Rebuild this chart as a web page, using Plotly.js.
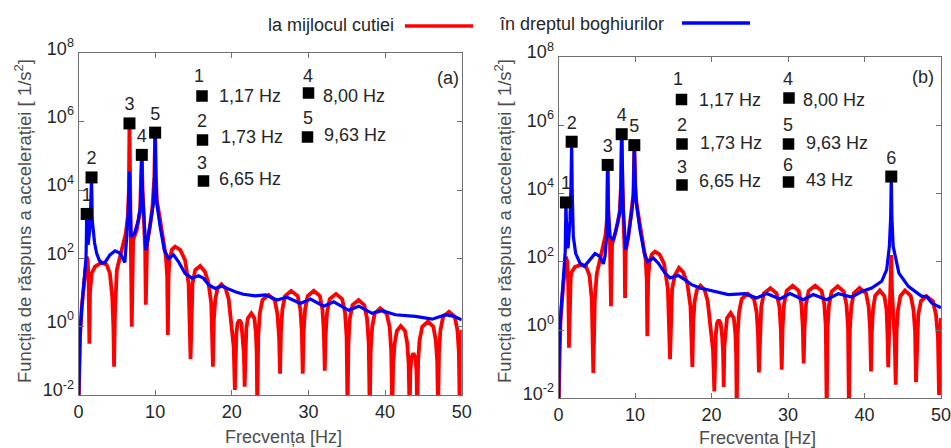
<!DOCTYPE html>
<html><head><meta charset="utf-8">
<script src="https://cdn.plot.ly/plotly-3.0.1.min.js"></script>
<style>html,body{margin:0;padding:0;background:#fff;}#chart{width:951px;height:448px;}</style>
</head><body><div id="chart"></div>
<script>
// ---------- DATA ----------
// Panel (a)
const freqA_red = [
 0, 0.05, 0.2, 0.42, 0.8, 0.98, 1.07, 1.2, 1.32, 1.42,
 1.5, 1.72, 2.16, 3.03, 3.68, 4.1, 4.4, 4.55, 4.64, 4.75,
 5.0, 5.42, 5.86, 6.17, 6.43, 6.57, 6.65, 6.72, 6.8, 6.95,
 7.13, 7.6, 8.04, 8.18, 8.26, 8.36, 8.48, 8.7, 8.78, 8.86,
 8.95, 9.35, 9.65, 9.9, 10.0, 10.1, 10.22, 10.65, 11.09, 11.4,
 11.57, 11.66, 11.75, 11.87, 12.18, 12.6, 13.27, 13.9, 14.36, 14.62,
 14.88, 15.23, 15.88, 16.5, 16.97, 17.32, 17.54,
 17.66, 17.85, 18.15, 18.65, 19.2, 19.6, 20.0, 20.25, 20.4,
 20.48, 20.6, 20.75, 21.0, 21.25, 21.45, 21.58, 21.68,
 21.76, 21.9, 22.1, 22.55, 22.95, 23.15, 23.25, 23.33,
 23.45, 23.65, 24.0, 24.8, 25.6, 25.95, 26.17, 26.3,
 26.42, 26.6, 26.95, 27.75, 28.6, 28.95, 29.14, 29.26,
 29.38, 29.56, 29.9, 30.7, 31.5, 31.83, 32.01, 32.13,
 32.25, 32.43, 32.78, 33.6, 34.4, 34.78, 34.98, 35.1,
 35.22, 35.4, 35.75, 36.55, 37.3, 37.65, 37.87, 38.0,
 38.13, 38.32, 38.65, 39.35, 40.2, 40.6, 40.8, 40.94,
 41.06, 41.25, 41.55, 42.05, 42.6, 42.9, 43.08, 43.2,
 43.3, 43.45, 43.7, 43.95, 44.1, 44.2,
 44.32, 44.5, 44.85, 45.6, 46.3, 46.62, 46.8, 46.92,
 47.04, 47.22, 47.57, 48.35, 49.1, 49.45, 49.63, 49.75, 49.88, 50.0];
const accA_red = [
 0.00316, 0.0316, 0.501, 3.55, 25.1, 70.8, 112, 89.1, 20.0, 0.316,
 10.0, 36.3, 57.5, 75.9, 64.6, 36.3, 7.59, 1.0, 0.0676, 2.0,
 45.7, 112, 275, 537, 1660, 1.0e4, 8.91e5, 1.0e4, 437, 1.0,
 347, 676, 2630, 1.26e4, 1.07e5, 1.0e4, 1320, 174, 4.37, 158,
 275, 955, 3240, 2.51e4, 4.79e5, 2.51e4, 5130, 1320, 275, 112,
 29.5, 0.575, 28.2, 89.1, 178, 219, 178, 89.1, 18.6, 0.112,
 18.6, 45.7, 60.3, 40.7, 18.6, 4.79, 0.0676,
 1.58, 6.31, 13.2, 17.4, 13.2, 6.31, 1.0, 0.251, 0.0141,
 0.2, 0.631, 1.26, 1.58, 1.26, 0.501, 0.158, 0.0174,
 0.251, 0.891, 1.78, 2.45, 1.78, 0.631, 0.158, 0.00316,
 0.501, 2.4, 6.03, 8.51, 6.03, 2.4, 0.501, 0.0417,
 0.708, 3.16, 7.94, 11.2, 7.94, 3.16, 0.708, 0.0417,
 0.708, 3.16, 7.94, 11.2, 7.94, 3.16, 0.708, 0.0513,
 0.575, 2.57, 6.46, 9.12, 6.46, 2.57, 0.501, 0.00316,
 0.316, 1.7, 4.27, 6.03, 4.27, 1.7, 0.316, 0.00316,
 0.2, 0.977, 2.45, 3.47, 2.45, 0.977, 0.2, 0.00316,
 0.0794, 0.316, 0.759, 1.05, 0.759, 0.316, 0.0794, 0.00316,
 0.0501, 0.126, 0.166, 0.126, 0.0501, 0.00316,
 0.1, 0.398, 1.0, 1.41, 1.0, 0.398, 0.1, 0.00316,
 0.174, 0.776, 1.95, 2.75, 1.95, 0.776, 0.174, 0.00316, 0.251, 0.794];
const freqA_blue = [
 0, 0.05, 0.2, 0.42, 0.8, 0.98, 1.03, 1.07, 1.12, 1.25,
 1.45, 1.6, 1.7, 1.8, 1.95, 2.1, 2.37, 2.7, 3.03, 3.46,
 4.1, 4.77, 5.42, 5.8, 6.05, 6.3, 6.5, 6.65, 6.75, 6.86,
 7.3, 7.82, 8.08, 8.18, 8.26, 8.35, 8.52, 8.78, 9.04, 9.48,
 9.78, 9.92, 10.0, 10.08, 10.22, 10.65, 11.2, 11.74, 12.4, 13.05,
 13.9, 14.8, 15.67, 16.3, 17.0, 17.84, 18.71, 19.4, 20.45, 21.5,
 23.07, 24.4, 25.9, 27.2, 28.95, 30.26, 32.0, 33.3, 35.26, 36.57,
 38.3, 39.6, 41.35, 43.97, 46.15, 47.9, 49.0, 50.0];
const accA_blue = [
 0.00316, 0.0316, 0.501, 3.55, 25.1, 100, 398, 2000, 398, 251,
 631, 3980, 2.34e4, 1260, 501, 282, 141, 89.1, 72.4, 75.9,
 126, 166, 141, 100, 75.9, 437, 2510, 3.47e4, 2000, 437,
 537, 1320, 3240, 1.26e4, 1.07e5, 1.0e4, 1660, 174, 347, 1320,
 4070, 2.51e4, 4.79e5, 2.51e4, 4070, 851, 174, 100, 126, 79.4,
 36.3, 26.3, 30.9, 26.3, 16.6, 13.2, 15.5, 13.2, 10.5, 8.91,
 7.94, 8.51, 6.03, 7.24, 4.79, 6.46, 3.98, 5.37, 3.02, 3.98,
 2.45, 2.95, 2.24, 2.0, 1.66, 2.24, 2.0, 1.58];
const peakA_freq = [1.07, 1.7, 6.65, 8.26, 10.0];
const peakA_acc = [2000, 2.34e4, 8.91e5, 1.07e5, 4.79e5];
const peakA_label = ['1', '2', '3', '4', '5'];
const modeA_num = ['1', '2', '3', '4', '5'];
const modeA_text = ['1,17 Hz', '1,73 Hz', '6,65 Hz', '8,00 Hz', '9,63 Hz'];

// Panel (b)
const freqB_red = [
 0, 0.1, 0.25, 0.45, 0.7, 0.88, 0.97, 1.15, 1.28, 1.37,
 1.45, 1.6, 1.72, 2.16, 3.03, 3.6, 4.05, 4.35, 4.55, 4.75,
 5.0, 5.42, 5.86, 6.17, 6.35, 6.43, 6.52, 6.72, 6.86, 7.0,
 7.5, 8.0, 8.16, 8.26, 8.36, 8.5, 8.64, 8.7, 8.78, 9.13,
 9.56, 9.8, 9.91, 10.02, 10.2, 10.65, 11.1, 11.4, 11.53, 11.61,
 11.72, 11.9, 12.2, 12.6, 13.2, 13.8, 14.3, 14.58, 14.85, 15.2,
 15.75, 16.3, 16.85, 17.25, 17.5,
 17.62, 17.8, 18.1, 18.55, 19.1, 19.5, 19.95, 20.2, 20.37,
 20.45, 20.57, 20.72, 20.95, 21.2, 21.4, 21.52, 21.6,
 21.68, 21.82, 22.02, 22.5, 22.92, 23.12, 23.22, 23.3,
 23.42, 23.6, 23.95, 24.75, 25.55, 25.9, 26.08, 26.2,
 26.32, 26.5, 26.85, 27.7, 28.5, 28.88, 29.06, 29.18,
 29.3, 29.48, 29.82, 30.6, 31.4, 31.75, 31.93, 32.05,
 32.17, 32.35, 32.7, 33.55, 34.4, 34.75, 34.94, 35.06,
 35.18, 35.36, 35.7, 36.5, 37.3, 37.65, 37.85, 37.97,
 38.09, 38.27, 38.6, 39.35, 40.2, 40.55, 40.73, 40.85,
 40.96, 41.12, 41.4, 42.0, 42.6, 42.88, 43.0, 43.1,
 43.3, 43.42, 43.5, 43.58, 43.75, 43.95, 44.08,
 44.2, 44.38, 44.7, 45.3, 46.05, 46.4, 46.61, 46.73,
 46.85, 47.03, 47.38, 48.1, 48.95, 49.35, 49.6, 49.74, 49.86, 50.0];
const accB_red = [
 0.00316, 0.251, 1.58, 7.08, 31.6, 89.1, 141, 100, 20.0, 0.302,
 7.94, 35.5, 50.1, 70.8, 83.2, 72.4, 39.8, 7.94, 0.055, 7.94,
 44.7, 126, 316, 631, 2000, 6.92e4, 2000, 437, 5.01, 316,
 794, 2820, 1.58e4, 5.5e5, 1.58e4, 2000, 200, 8.71, 200, 550,
 2690, 1.0e4, 2.63e5, 1.58e4, 5010, 1120, 282, 112, 31.6, 0.661,
 31.6, 100, 166, 200, 166, 89.1, 15.8, 0.141, 15.8, 39.8,
 66.1, 50.1, 22.4, 5.01, 0.0832,
 1.78, 7.08, 15.1, 20.0, 15.1, 7.08, 1.12, 0.251, 0.0158,
 0.251, 0.794, 1.58, 2.0, 1.58, 0.631, 0.2, 0.0214,
 0.316, 1.12, 2.24, 3.16, 2.24, 0.794, 0.2, 0.00316,
 0.741, 3.31, 8.32, 11.7, 8.32, 3.31, 0.741, 0.0575,
 1.07, 4.79, 12.0, 17.0, 12.0, 4.79, 1.07, 0.0692,
 1.26, 5.62, 14.1, 20.0, 14.1, 5.62, 1.26, 0.105,
 1.26, 5.62, 14.1, 20.0, 14.1, 5.62, 1.26, 0.00316,
 1.2, 5.37, 13.5, 19.1, 13.5, 5.37, 1.2, 0.00316,
 1.07, 4.79, 12.0, 17.0, 12.0, 4.79, 1.07, 0.0617,
 0.912, 4.07, 10.2, 14.5, 10.0, 3.98, 0.794, 0.0813,
 3.98, 15.8, 158, 15.8, 3.16, 0.501, 0.0251,
 1.0, 3.98, 10.0, 14.5, 10.0, 3.98, 0.912, 0.0295,
 0.631, 2.82, 7.08, 9.77, 6.92, 2.75, 0.631, 0.0126, 0.501, 2.24];
const freqB_blue = [
 0, 0.1, 0.25, 0.45, 0.7, 0.88, 0.97, 1.05, 1.12, 1.25,
 1.5, 1.63, 1.72, 1.8, 1.94, 2.24, 2.81, 3.38, 3.9, 4.77,
 5.42, 5.86, 6.08, 6.3, 6.38, 6.43, 6.5, 6.73, 7.17, 7.73,
 8.04, 8.18, 8.26, 8.34, 8.47, 8.78, 9.13, 9.56, 9.78, 9.91,
 10.02, 10.13, 10.65, 11.22, 11.65, 12.4, 13.05, 13.92, 14.58, 15.67,
 16.5, 17.4, 18.5, 20.46, 22.2, 24.4, 25.9, 27.2, 28.95, 30.26,
 32.0, 33.3, 35.06, 36.58, 38.33, 39.63, 40.94, 42.25, 42.9, 43.25,
 43.42, 43.5, 43.58, 43.75, 44.5, 45.73, 47.48, 48.1, 48.8, 50.0];
const accB_blue = [
 0.00316, 0.316, 2.0, 7.94, 39.8, 200, 5500, 794, 316, 251,
 1580, 1.58e4, 3.31e5, 1.0e4, 550, 178, 91.2, 74.1, 102, 174,
 145, 87.1, 145, 550, 3980, 5.62e4, 3980, 550, 437, 1350,
 3310, 2.0e4, 5.5e5, 2.0e4, 3310, 229, 550, 2690, 8130, 2.63e5,
 2.0e4, 6610, 871, 182, 102, 129, 91.2, 46.8, 33.9, 39.8,
 30.2, 21.4, 17.0, 13.5, 11.0, 11.7, 8.71, 11.7, 8.13, 11.7,
 7.76, 11.0, 7.76, 11.7, 9.33, 13.5, 17.0, 26.9, 58.9, 282,
 2000, 3.16e4, 2000, 282, 46.8, 19.1, 9.77, 9.77, 6.17, 4.47];
const peakB_freq = [0.97, 1.72, 6.43, 8.26, 9.91, 43.5];
const peakB_acc = [5500, 3.31e5, 6.92e4, 5.5e5, 2.63e5, 3.16e4];
const peakB_label = ['1', '2', '3', '4', '5', '6'];
const modeB_num = ['1', '2', '3', '4', '5', '6'];
const modeB_text = ['1,17 Hz', '1,73 Hz', '6,65 Hz', '8,00 Hz', '9,63 Hz', '43 Hz'];

// Axis ticks and labels
const xTickVals = [0, 10, 20, 30, 40, 50];
const yTickVals = [1e-2, 1, 1e2, 1e4, 1e6, 1e8];
const yTickText = ['10<sup>-2</sup>', '10<sup>0</sup>', '10<sup>2</sup>', '10<sup>4</sup>', '10<sup>6</sup>', '10<sup>8</sup>'];
const seriesNames = ['la mijlocul cutiei', 'în dreptul boghiurilor'];
const xTitleA = 'Frecvența [Hz]';
const xTitleB = 'Frecventa [Hz]';
const yTitle = 'Funcția de răspuns a accelerației [ 1/s<sup>2</sup>]';
const panelTags = ['(a)', '(b)'];

// ---------- STYLE / LAYOUT ----------
const W = 951, H = 448;
const px = x => x / W;
const py = y => 1 - y / H;
const FONT = '"Liberation Sans", Arial, Helvetica, sans-serif';
const TXT = '#262626';
const AX = '#707070';
const RED = '#ff0000', BLUE = '#0000ff';

function line(x, y, xa, ya, color, width, name) {
  return {type: 'scatter', mode: 'lines', x: x, y: y, xaxis: xa, yaxis: ya,
    name: name, line: {color: color, width: width}, hoverinfo: 'skip', showlegend: false};
}
function peaks(x, y, t, xa, ya) {
  return {type: 'scatter', mode: 'markers+text', x: x, y: y, text: t, xaxis: xa, yaxis: ya,
    marker: {symbol: 'square', size: 12, color: '#000'}, textposition: 'top center',
    textfont: {family: FONT, size: 18, color: TXT}, cliponaxis: false, showlegend: false, hoverinfo: 'skip'};
}

const traces = [
  line(freqA_red, accA_red, 'x', 'y', RED, 3.8, seriesNames[0]),
  line(freqA_blue, accA_blue, 'x', 'y', BLUE, 3.2, seriesNames[1]),
  peaks(peakA_freq, peakA_acc, peakA_label, 'x', 'y'),
  line(freqB_red, accB_red, 'x2', 'y2', RED, 3.8, seriesNames[0]),
  line(freqB_blue, accB_blue, 'x2', 'y2', BLUE, 3.2, seriesNames[1]),
  peaks(peakB_freq, peakB_acc, peakB_label, 'x2', 'y2')
];

function xax(domain, anchor) {
  return {domain: domain, anchor: anchor, range: [0, 50], tickmode: 'array', tickvals: xTickVals,
    ticks: 'inside', ticklen: 5, tickcolor: AX, showline: true, linecolor: AX, linewidth: 1,
    mirror: 'ticks', showgrid: false, zeroline: false, ticklabeloverflow: 'allow',
    tickfont: {family: FONT, size: 18, color: TXT}};
}
function yax(domain, anchor) {
  return {domain: domain, anchor: anchor, type: 'log', range: [-2, 8], tickmode: 'array',
    tickvals: yTickVals, ticktext: yTickText, ticks: 'inside', ticklen: 5, tickcolor: AX,
    showline: true, linecolor: AX, linewidth: 1, mirror: 'ticks', showgrid: false, zeroline: false,
    ticklabeloverflow: 'allow',
    tickfont: {family: FONT, size: 18, color: TXT}, ticklabelshift: -5};
}

const ann = [];
const shapes = [];
function txt(x, y, t, opt) {
  ann.push(Object.assign({xref: 'paper', yref: 'paper', x: px(x), y: py(y), text: t, showarrow: false,
    xanchor: 'center', yanchor: 'middle', font: {family: FONT, size: 18, color: TXT}}, opt || {}));
}
function sq(cx, cy, s) {
  shapes.push({type: 'rect', xref: 'paper', yref: 'paper', x0: px(cx - s / 2), x1: px(cx + s / 2),
    y0: py(cy + s / 2), y1: py(cy - s / 2), fillcolor: '#000', line: {width: 0}});
}
function hline(x0, x1, y, color, w) {
  shapes.push({type: 'line', xref: 'paper', yref: 'paper', x0: px(x0), x1: px(x1), y0: py(y), y1: py(y),
    line: {color: color, width: w}});
}

// legend at the top
txt(396, 25, seriesNames[0], {xanchor: 'right'});
hline(405, 473, 26, RED, 3.5);
txt(497, 24, seriesNames[1], {xanchor: 'left'});
hline(682, 750, 23, BLUE, 3.5);

// mode tables (positions in px)
const tabA = [
  {nx: 199, ny: 76, sx: 202, sy: 96, tx: 217, ty: 96},
  {nx: 202, ny: 121, sx: 202.5, sy: 140, tx: 219, ty: 137},
  {nx: 202, ny: 163, sx: 203.5, sy: 181, tx: 217, ty: 179},
  {nx: 307.5, ny: 76, sx: 308.5, sy: 93, tx: 321, ty: 96},
  {nx: 308, ny: 118, sx: 307.5, sy: 137, tx: 322, ty: 135}
];
const tabB = [
  {nx: 678, ny: 79, sx: 681.5, sy: 99.5, tx: 697, ty: 100},
  {nx: 681.5, ny: 125, sx: 682, sy: 144, tx: 698, ty: 143},
  {nx: 681.5, ny: 167, sx: 682, sy: 185, tx: 697, ty: 181},
  {nx: 788, ny: 79, sx: 789, sy: 98, tx: 801, ty: 100},
  {nx: 788, ny: 125, sx: 788.5, sy: 144, tx: 804, ty: 143},
  {nx: 788, ny: 165, sx: 788.5, sy: 182, tx: 804, ty: 180}
];
tabA.forEach((p, i) => { txt(p.nx, p.ny, modeA_num[i]); sq(p.sx, p.sy, 11.5); txt(p.tx, p.ty, modeA_text[i], {xanchor: 'left'}); });
tabB.forEach((p, i) => { txt(p.nx, p.ny, modeB_num[i]); sq(p.sx, p.sy, 11.5); txt(p.tx, p.ty, modeB_text[i], {xanchor: 'left'}); });

// panel tags
txt(448, 78, panelTags[0]);
txt(923, 76.5, panelTags[1]);

// axis titles
const TCOL = '#4d4d4d';
txt(23, 221, yTitle, {textangle: -90, font: {family: FONT, size: 18.5, color: TCOL}});
txt(503, 221, yTitle, {textangle: -90, font: {family: FONT, size: 18.5, color: TCOL}});
txt(283, 437, xTitleA, {font: {family: FONT, size: 18, color: TCOL}});
txt(757, 438, xTitleB, {font: {family: FONT, size: 18, color: TCOL}});

const layout = {
  width: W, height: H, margin: {l: 0, r: 0, t: 0, b: 0, pad: 0},
  paper_bgcolor: '#fff', plot_bgcolor: '#fff', showlegend: false,
  font: {family: FONT, color: TXT},
  xaxis: xax([78.5 / W, 461.7 / W], 'y'),
  yaxis: yax([1 - 395 / H, 1 - 53.4 / H], 'x'),
  xaxis2: xax([558.5 / W, 941 / W], 'y2'),
  yaxis2: yax([1 - 398.3 / H, 1 - 57.1 / H], 'x2'),
  annotations: ann,
  shapes: shapes
};
Plotly.newPlot('chart', traces, layout, {staticPlot: true, displayModeBar: false});
</script>
</body></html>
